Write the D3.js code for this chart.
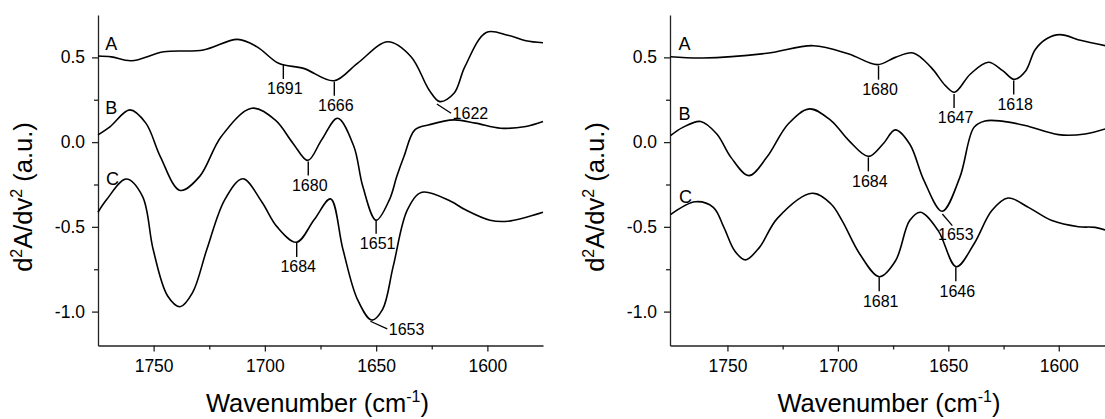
<!DOCTYPE html>
<html><head><meta charset="utf-8">
<script src="https://cdn.jsdelivr.net/npm/d3@7"></script>
<style>
body{margin:0;background:#fff;}
svg{display:block;}
text{font-family:'Liberation Sans',Arial,Helvetica,sans-serif;fill:#000;}
</style>
</head><body>
<svg id="chart" width="1105" height="419"></svg>
<script>
// ---------------- DATA ----------------
const xTickValues = [1750, 1700, 1650, 1600];
const xTickLabels = ["1750", "1700", "1650", "1600"];
const xMinorTicks = [1725, 1675, 1625];
const yTickValues = [-1.0, -0.5, 0.0, 0.5];
const yTickLabels = ["-1.0", "-0.5", "0.0", "0.5"];
const yMinorTicks = [-0.75, -0.25, 0.25];
const seriesNames = ["A", "B", "C"];

// left panel spectra: [wavenumber, d2A/dv2]
const leftA = [[1775,0.508],[1769,0.503],[1760,0.480],[1745.4,0.533],[1727.7,0.543],[1712.3,0.606],[1703.5,0.562],[1693.8,0.465],[1682.6,0.435],[1668.9,0.362],[1658.4,0.465],[1644.7,0.592],[1634.3,0.504],[1626.2,0.308],[1621.4,0.239],[1615,0.288],[1610.1,0.445],[1600.5,0.647],[1590.8,0.631],[1582.7,0.598],[1575,0.586]];
const leftB = [[1775,0.043],[1769.5,0.092],[1760.7,0.19],[1753.5,0.112],[1747,-0.085],[1738.1,-0.285],[1729.3,-0.202],[1719.6,0.033],[1705.9,0.2],[1695.4,0.131],[1687.4,-0.006],[1680.7,-0.108],[1674.5,0.013],[1667.3,0.141],[1660,-0.026],[1656,-0.261],[1650,-0.461],[1644,-0.339],[1640.7,-0.202],[1637.5,-0.085],[1632.6,0.072],[1626.2,0.102],[1615,0.131],[1605.3,0.112],[1594,0.082],[1582.7,0.092],[1575,0.121]];
const leftC = [[1775,-0.414],[1771.1,-0.339],[1762.3,-0.218],[1755,-0.32],[1750.2,-0.634],[1743.7,-0.908],[1738.1,-0.971],[1732.5,-0.888],[1726.1,-0.634],[1718,-0.339],[1709.9,-0.216],[1701.5,-0.35],[1694.5,-0.5],[1685.8,-0.591],[1677.8,-0.457],[1670.5,-0.335],[1664.9,-0.634],[1658.4,-0.928],[1652,-1.05],[1647.1,-0.987],[1642.3,-0.732],[1635.9,-0.398],[1629.4,-0.296],[1616.5,-0.349],[1610.1,-0.398],[1598.8,-0.461],[1590.8,-0.467],[1575,-0.414]];

// right panel spectra
const rightA = [[1775.8,0.504],[1761.2,0.496],[1732.1,0.524],[1711.2,0.569],[1695,0.52],[1682.1,0.457],[1674,0.5],[1665.9,0.526],[1657.8,0.441],[1651.3,0.333],[1647.2,0.294],[1640,0.402],[1631.9,0.471],[1625.4,0.422],[1620.2,0.37],[1615,0.42],[1610.7,0.545],[1605.5,0.61],[1599.5,0.634],[1589.7,0.599],[1579,0.569]];
const rightB = [[1775.8,0.038],[1770.2,0.087],[1762.1,0.122],[1754.8,0.048],[1748.4,-0.09],[1740.3,-0.198],[1732.2,-0.09],[1722.5,0.107],[1712.8,0.196],[1703.1,0.127],[1695,0.009],[1686.1,-0.084],[1679.6,-0.011],[1674,0.072],[1667.5,-0.011],[1661,-0.227],[1652.8,-0.408],[1644.8,-0.208],[1638.4,0.087],[1633.4,0.125],[1625.7,0.124],[1615.2,0.098],[1600.1,0.044],[1588.1,0.048],[1579,0.078]];
const rightC = [[1775.8,-0.428],[1764.5,-0.352],[1756.4,-0.385],[1751.6,-0.503],[1746.8,-0.64],[1741.9,-0.695],[1735.5,-0.621],[1727.4,-0.45],[1711.6,-0.302],[1703.1,-0.365],[1698.1,-0.463],[1690.1,-0.66],[1681.2,-0.794],[1673.9,-0.7],[1667.5,-0.463],[1662.6,-0.414],[1654.6,-0.522],[1646.4,-0.735],[1638.4,-0.601],[1630.3,-0.404],[1623,-0.33],[1613.7,-0.385],[1603.1,-0.463],[1591.1,-0.499],[1583.5,-0.503],[1579,-0.518]];

// curve-name label anchors [wavenumber, value]
const leftNamePos = [[1769,0.582],[1769,0.205],[1768.5,-0.215]];
const rightNamePos = [[1769.4,0.583],[1769.4,0.167],[1769,-0.321]];

// peak annotations with vertical marker: [label, wavenumber, value at marker top]
const leftPeaks = [["1691",1691.7,0.455],["1666",1668.8,0.356],["1680",1680.5,-0.115],["1651",1650,-0.458],["1684",1685.7,-0.595]];
const rightPeaks = [["1680",1681.6,0.451],["1647",1647.4,0.284],["1618",1620.4,0.363],["1684",1686.2,-0.09],["1681",1681.3,-0.798],["1646",1646.6,-0.739]];
// slanted leader annotations: [label, w1, v1, w2, v2, placement]
const leftLeaders = [["1622",1622.7,0.225,1616.3,0.170,"right"],["1653",1652.6,-1.057,1645,-1.102,"right"]];
const rightLeaders = [["1653",1652.7,-0.424,1648.2,-0.493,"below"]];

// ---------------- LAYOUT ----------------
const svg = d3.select("#chart");
const FONT = "'Liberation Sans',Arial,Helvetica,sans-serif";
const yDomain = [-1.2, 0.75];
const plotTop = 15, plotBottom = 345.5;

function drawPanel(cfg) {
  const x = d3.scaleLinear().domain(cfg.xDomain).range(cfg.xRange);
  const y = d3.scaleLinear().domain(yDomain).range([plotBottom, plotTop]);
  const g = svg.append("g");

  // axes
  const xAxis = g.append("g").attr("transform", `translate(0,${plotBottom})`)
    .call(d3.axisBottom(x).tickValues(xTickValues).tickFormat((d,i)=>xTickLabels[i]).tickSize(6).tickSizeOuter(0).tickPadding(8));
  const xMinor = g.append("g").attr("transform", `translate(0,${plotBottom})`)
    .call(d3.axisBottom(x).tickValues(xMinorTicks).tickFormat("").tickSize(4).tickSizeOuter(0));
  xMinor.select(".domain").remove();
  const yAxis = g.append("g").attr("transform", `translate(${cfg.xRange[0]},0)`)
    .call(d3.axisLeft(y).tickValues(yTickValues).tickFormat((d,i)=>yTickLabels[i]).tickSize(6).tickSizeOuter(0).tickPadding(7));
  const yMinor = g.append("g").attr("transform", `translate(${cfg.xRange[0]},0)`)
    .call(d3.axisLeft(y).tickValues(yMinorTicks).tickFormat("").tickSize(4).tickSizeOuter(0));
  yMinor.select(".domain").remove();
  [xAxis, xMinor, yAxis, yMinor].forEach(a => {
    a.attr("font-family", FONT).attr("font-size", 17.5);
    a.selectAll("path,line").attr("stroke", "#222").attr("stroke-width", 1.3);
    a.selectAll("text").attr("fill", "#111");
  });

  // curves
  const line = d3.line().x(d => x(d[0])).y(d => y(d[1])).curve(d3.curveCatmullRom.alpha(0.5));
  cfg.series.forEach(s => {
    g.append("path").datum(s).attr("d", line)
      .attr("fill", "none").attr("stroke", "#000").attr("stroke-width", 1.6)
      .attr("stroke-linejoin", "round");
  });

  // curve names
  cfg.namePos.forEach((p, i) => {
    g.append("text").attr("x", x(p[0])).attr("y", y(p[1]))
      .attr("dy", "0.35em").attr("text-anchor", "middle")
      .attr("font-size", 18).text(seriesNames[i]);
  });

  // vertical peak markers
  cfg.peaks.forEach(p => {
    const px = x(p[1]), py = y(p[2]);
    g.append("line").attr("x1", px).attr("x2", px).attr("y1", py).attr("y2", py + 14)
      .attr("stroke", "#000").attr("stroke-width", 1.4);
    g.append("text").attr("x", px + 1.5).attr("y", py + 14 + 15.5)
      .attr("text-anchor", "middle").attr("font-size", 16).text(p[0]);
  });

  // slanted leaders
  cfg.leaders.forEach(p => {
    const x1 = x(p[1]), y1 = y(p[2]), x2 = x(p[3]), y2 = y(p[4]);
    g.append("line").attr("x1", x1).attr("y1", y1).attr("x2", x2).attr("y2", y2)
      .attr("stroke", "#000").attr("stroke-width", 1.3);
    const t = g.append("text").attr("font-size", 16).text(p[0]);
    if (p[5] === "right") {
      t.attr("x", x2 + 1.5).attr("y", y2 + 6).attr("text-anchor", "start");
    } else {
      t.attr("x", x2 + 3.5).attr("y", y2 + 14).attr("text-anchor", "middle");
    }
  });

  // y title
  const yt = g.append("text")
    .attr("transform", `translate(${cfg.xRange[0] - 66},197) rotate(-90)`)
    .attr("text-anchor", "middle").attr("font-size", 25.5);
  yt.append("tspan").text("d");
  yt.append("tspan").attr("dy", -10).attr("font-size", 16).text("2");
  yt.append("tspan").attr("dy", 10).text("A/dv");
  yt.append("tspan").attr("dy", -10).attr("font-size", 16).text("2");
  yt.append("tspan").attr("dy", 10).text(" (a.u.)");

  // x title
  const xt = g.append("text")
    .attr("x", (cfg.xRange[0] + x(1575)) / 2 - 3).attr("y", 411.5)
    .attr("text-anchor", "middle").attr("font-size", 25.5);
  xt.append("tspan").text("Wavenumber (cm");
  xt.append("tspan").attr("dy", -10).attr("font-size", 16).text("-1");
  xt.append("tspan").attr("dy", 10).text(")");
}

drawPanel({xDomain:[1775,1575], xRange:[98,543], series:[leftA,leftB,leftC], namePos:leftNamePos, peaks:leftPeaks, leaders:leftLeaders});
drawPanel({xDomain:[1776,1575], xRange:[670,1114], series:[rightA,rightB,rightC], namePos:rightNamePos, peaks:rightPeaks, leaders:rightLeaders});
</script>
</body></html>
